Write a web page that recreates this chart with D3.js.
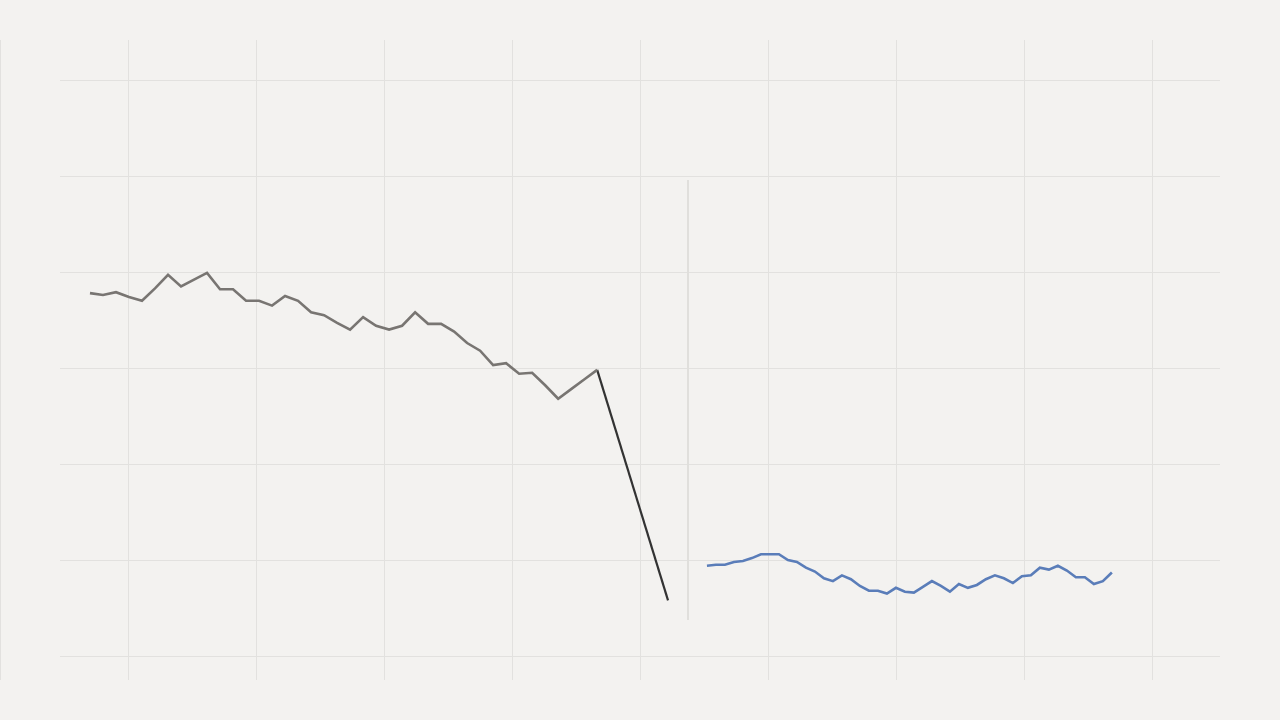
<!DOCTYPE html>
<html>
<head>
<meta charset="utf-8">
<script src="https://cdn.jsdelivr.net/npm/d3@7"></script>
<style>
  html, body { margin: 0; padding: 0; background: #f3f2f0; }
  svg { display: block; }
</style>
</head>
<body>
<div id="chart"></div>
<script>
// series values
const grayValues = [37.8, 37.6, 37.9, 37.4, 37.0, 38.3, 39.7, 38.5, 39.2, 39.9,
  38.2, 38.2, 37.0, 37.0, 36.5, 37.5, 37.0, 35.8, 35.5, 34.7,
  34.0, 35.3, 34.4, 34.0, 34.4, 35.8, 34.6, 34.6, 33.8, 32.6,
  31.8, 30.3, 30.5, 29.4, 29.5, 28.2, 26.8, 27.8, 28.8, 29.8];
const blueValues = [9.4, 9.5, 9.5, 9.8, 9.9, 10.2, 10.6, 10.6, 10.6, 10.0,
  9.8, 9.2, 8.8, 8.1, 7.8, 8.4, 8.0, 7.3, 6.8, 6.8,
  6.5, 7.1, 6.7, 6.6, 7.2, 7.8, 7.3, 6.7, 7.5, 7.1,
  7.4, 8.0, 8.4, 8.1, 7.6, 8.3, 8.4, 9.2, 9.0, 9.4,
  8.9, 8.2, 8.2, 7.5, 7.8, 8.7];
// x positions in axis units: start and step of each series
const grayStart = 0.703, grayStep = 0.1016;
const blueStart = 5.523, blueStep = 0.0703;
// end point of the drop connector, and the separator position
const dropEnd = [5.219, 5.8];
const separatorX = 5.375;
const xTicks = [0, 1, 2, 3, 4, 5, 6, 7, 8, 9];
const yTicks = [0, 10, 20, 30, 40, 50, 60];

const width = 1280, height = 720;

const svg = d3.select("#chart")
  .append("svg")
  .attr("width", width)
  .attr("height", height);

svg.append("rect")
  .attr("width", width)
  .attr("height", height)
  .attr("fill", "#f3f2f0");

const x = d3.scaleLinear().domain([0, 10]).range([0, 1280]);
const y = d3.scaleLinear().domain([0, 60]).range([656, 80]);

// vertical grid
svg.append("g")
  .selectAll("line")
  .data(xTicks)
  .join("line")
  .attr("x1", d => x(d) + 0.5)
  .attr("x2", d => x(d) + 0.5)
  .attr("y1", 40)
  .attr("y2", 680)
  .attr("stroke", "#e2e1df")
  .attr("stroke-width", 1);

// horizontal grid
svg.append("g")
  .selectAll("line")
  .data(yTicks)
  .join("line")
  .attr("x1", 60)
  .attr("x2", 1220)
  .attr("y1", d => y(d) + 0.5)
  .attr("y2", d => y(d) + 0.5)
  .attr("stroke", "#e2e1df")
  .attr("stroke-width", 1);

// separator
svg.append("line")
  .attr("x1", x(separatorX))
  .attr("x2", x(separatorX))
  .attr("y1", 180)
  .attr("y2", 620)
  .attr("stroke", "#e0dfdc")
  .attr("stroke-width", 2);

const grayPts = grayValues.map((v, i) => [grayStart + i * grayStep, v]);
const bluePts = blueValues.map((v, i) => [blueStart + i * blueStep, v]);

const line = d3.line()
  .x(d => x(d[0]))
  .y(d => y(d[1]));

// drop connector
svg.append("path")
  .datum([grayPts[grayPts.length - 1], dropEnd])
  .attr("d", line)
  .attr("fill", "none")
  .attr("stroke", "#333333")
  .attr("stroke-width", 2.2);

svg.append("path")
  .datum(grayPts)
  .attr("d", line)
  .attr("fill", "none")
  .attr("stroke", "#787572")
  .attr("stroke-width", 2.6)
  .attr("stroke-linejoin", "miter");

svg.append("path")
  .datum(bluePts)
  .attr("d", line)
  .attr("fill", "none")
  .attr("stroke", "#5a7db9")
  .attr("stroke-width", 2.6)
  .attr("stroke-linejoin", "miter");
</script>
</body>
</html>
